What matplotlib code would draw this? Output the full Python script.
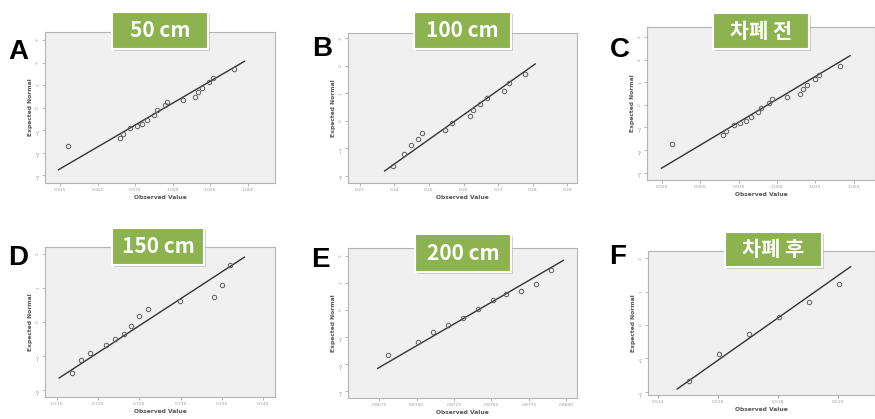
import matplotlib
matplotlib.use("Agg")
import matplotlib.pyplot as plt
from matplotlib.patches import FancyBboxPatch

a_obs = [0.9306, 0.9650, 0.9668, 0.9717, 0.9761, 0.9794, 0.9828, 0.9877, 0.9894,
         0.9950, 0.9966, 1.0068, 1.0150, 1.0172, 1.0194, 1.0246, 1.0272, 1.0410]
a_exp = [-1.70, -1.33, -1.16, -0.90, -0.80, -0.71, -0.56, -0.31, -0.12,
         0.10, 0.25, 0.36, 0.47, 0.70, 0.89, 1.14, 1.33, 1.70]
a_line_x = [0.924, 1.048]
a_line_y = [-2.76, 2.06]

b_obs = [0.2397, 0.2429, 0.2448, 0.2467, 0.2479, 0.2546, 0.2568, 0.2619, 0.2627,
         0.2648, 0.2667, 0.2718, 0.2730, 0.2778]
b_exp = [-1.65, -1.20, -0.89, -0.65, -0.46, -0.32, -0.10, 0.17, 0.41,
         0.61, 0.82, 1.10, 1.37, 1.71]
b_line_x = [0.2372, 0.2807]
b_line_y = [-1.83, 2.07]

c_obs = [0.9315, 0.9650, 0.9670, 0.9718, 0.9762, 0.9795, 0.9830, 0.9878, 0.9895,
         0.9950, 0.9967, 1.0068, 1.0150, 1.0172, 1.0194, 1.0246, 1.0272, 1.0410]
c_exp = [-1.73, -1.33, -1.16, -0.90, -0.80, -0.71, -0.56, -0.31, -0.12,
         0.10, 0.25, 0.36, 0.47, 0.70, 0.89, 1.14, 1.33, 1.70]
c_line_x = [0.9246, 1.0478]
c_line_y = [-2.81, 2.18]

d_obs = [0.7169, 0.7180, 0.7190, 0.7210, 0.7221, 0.7231, 0.7240, 0.7250, 0.7260,
         0.7299, 0.7340, 0.7350, 0.7360]
d_exp = [-1.50, -1.11, -0.90, -0.69, -0.51, -0.36, -0.13, 0.17, 0.39,
         0.61, 0.74, 1.10, 1.67]
d_line_x = [0.7153, 0.7377]
d_line_y = [-1.65, 1.91]

e_obs = [0.8681, 0.8701, 0.8711, 0.8721, 0.8731, 0.8741, 0.8751, 0.8760, 0.8770,
         0.8780, 0.8790]
e_exp = [-1.68, -1.20, -0.83, -0.56, -0.31, 0.04, 0.37, 0.60, 0.72, 0.97, 1.47]
e_line_x = [0.8674, 0.8798]
e_line_y = [-2.17, 1.84]

f_obs = [0.51502, 0.51602, 0.51702, 0.51802, 0.51902, 0.52003]
f_exp = [-1.67, -0.88, -0.27, 0.24, 0.68, 1.22]
f_line_x = [0.51464, 0.52041]
f_line_y = [-1.92, 1.75]

titles = ["50 cm", "100 cm", "차폐 전", "150 cm", "200 cm", "차폐 후"]
letters = ["A", "B", "C", "D", "E", "F"]

a_xticks = [0.925, 0.950, 0.975, 1.000, 1.025, 1.050]
b_xticks = [0.23, 0.24, 0.25, 0.26, 0.27, 0.28, 0.29]
d_xticks = [0.715, 0.720, 0.725, 0.730, 0.735, 0.740]
e_xticks = [0.8675, 0.8700, 0.8725, 0.8750, 0.8775, 0.8800]
f_xticks = [0.514, 0.516, 0.518, 0.520]

W, H = 875, 419
GREEN = "#8cb350"
FRAME_BG = "#f0f0f0"
EDGE = "#b4b4b4"
KR = ["Noto Sans CJK KR", "DejaVu Sans"]

panels = [
    # obs, exp, line x, line y, xticks, fmt, yticks, xlim, ylim, frame(l, t, r, b), letter xy, title box (l, t, r, b)
    (a_obs, a_exp, a_line_x, a_line_y, a_xticks, "{:.3f}", range(-3, 4),
     (0.915, 1.0683), (-3.35, 3.36), (45, 32, 275, 183), (18, 52), (112, 12, 208, 49)),
    (b_obs, b_exp, b_line_x, b_line_y, b_xticks, "{:.2f}", range(-2, 4),
     (0.2266, 0.2928), (-2.27, 3.2), (348, 33, 577, 183), (322, 49), (414, 12, 511, 49)),
    (c_obs, c_exp, c_line_x, c_line_y, a_xticks, "{:.3f}", range(-3, 4),
     (0.9152, 1.064), (-3.33, 3.45), (647, 27, 875, 180), (620, 50), (713, 13, 809, 49)),
    (d_obs, d_exp, d_line_x, d_line_y, d_xticks, "{:.3f}", range(-2, 3),
     (0.71359, 0.74141), (-2.21, 2.21), (45, 247, 275, 397), (18, 258), (112, 228, 204, 265)),
    (e_obs, e_exp, e_line_x, e_line_y, e_xticks, "{:.4f}", range(-3, 3),
     (0.86542, 0.88071), (-3.27, 2.30), (348, 248, 577, 398), (320, 260), (415, 234, 511, 272)),
    (f_obs, f_exp, f_line_x, f_line_y, f_xticks, "{:.3f}", range(-2, 3),
     (0.51367, 0.52122), (-2.1, 2.22), (648, 251, 875, 395), (618, 257), (725, 232, 822, 267)),
]

fig = plt.figure(figsize=(W / 100, H / 100), dpi=100)
fig.patch.set_facecolor("white")

for i, (obs, exp, lx, ly, xt, fmt, yt, xlim, ylim, fr, lxy, tb) in enumerate(panels):
    l, t, r, b = fr
    ax = fig.add_axes([l / W, 1 - b / H, (r - l) / W, (b - t) / H])
    ax.set_facecolor(FRAME_BG)
    ax.plot(lx, ly, color="#333333", lw=1.0, zorder=2)
    ax.plot(obs, exp, ls="none", marker="o", ms=3.2, mfc="none", mec="#5e5e5e",
            mew=0.7, zorder=3)
    ax.set_xlim(*xlim)
    ax.set_ylim(*ylim)
    ax.set_xticks(xt)
    ax.set_xticklabels([fmt.format(v) for v in xt])
    ax.set_yticks(list(yt))
    ax.tick_params(labelsize=3.2, colors="#9a9a9a", length=2, width=0.5, pad=1.5)
    ax.tick_params(axis="y", labelrotation=90)
    for s in ax.spines.values():
        s.set_color(EDGE)
        s.set_linewidth(0.8)
    ax.set_xlabel("Observed Value", fontsize=4.3, color="#555555", weight="bold", labelpad=2)
    ax.set_ylabel("Expected Normal", fontsize=4.3, color="#555555", weight="bold", labelpad=2)

    # panel letter
    fig.text(lxy[0] / W, 1 - lxy[1] / H, letters[i], fontsize=20, weight="bold",
             family="Liberation Sans", ha="center", va="center", color="black")

    # green title box with shadow
    bl, bt, br, bb = tb
    fig.patches.append(FancyBboxPatch(((bl + 2) / W, 1 - (bb + 2) / H), (br - bl) / W, (bb - bt) / H,
                                      boxstyle="square,pad=0", fc="#9a9a9a", ec="none",
                                      alpha=0.45, transform=fig.transFigure, zorder=5))
    fig.patches.append(FancyBboxPatch((bl / W, 1 - bb / H), (br - bl) / W, (bb - bt) / H,
                                      boxstyle="square,pad=0", fc=GREEN, ec="white", lw=1.5,
                                      transform=fig.transFigure, zorder=6))
    fig.text((bl + br) / 2 / W, 1 - (bt + bb) / 2 / H, titles[i], fontsize=15,
             family=KR, weight="bold", color="white", ha="center", va="center", zorder=7)

fig.savefig("out.png", dpi=100)
